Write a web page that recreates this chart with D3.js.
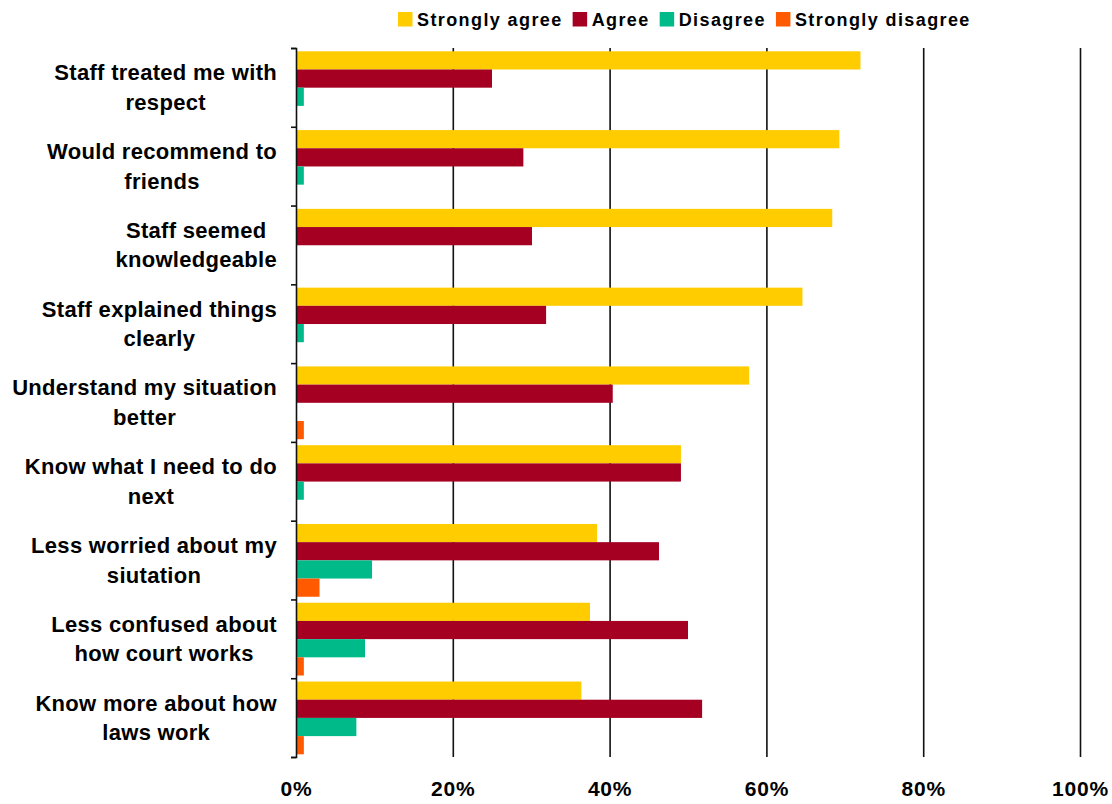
<!DOCTYPE html>
<html>
<head>
<meta charset="utf-8">
<script src="https://cdn.jsdelivr.net/npm/d3@7"></script>
<style>
  html, body { margin: 0; padding: 0; background: #fff; }
  svg { display: block; font-family: "Liberation Sans", Arial, sans-serif; font-weight: bold; }
</style>
</head>
<body>
<svg id="chart" width="1112" height="804"></svg>
<script>
// Survey statements (top to bottom), each split into its two display lines
const categories = [
  ["Staff treated me with", "respect"],
  ["Would recommend to", "friends"],
  ["Staff seemed", "knowledgeable"],
  ["Staff explained things", "clearly"],
  ["Understand my situation", "better"],
  ["Know what I need to do", "next"],
  ["Less worried about my", "siutation"],
  ["Less confused about", "how court works"],
  ["Know more about how", "laws work"]
];

const seriesNames = ["Strongly agree", "Agree", "Disagree", "Strongly disagree"];
const seriesColors = ["#FFCC00", "#A50021", "#00BA8A", "#FF5A00"];

// Percent of respondents per statement
const stronglyAgree    = [72.0, 69.3, 68.4, 64.6, 57.8, 49.1, 38.4, 37.5, 36.4];
const agree            = [25.0, 29.0, 30.1, 31.9, 40.4, 49.1, 46.3, 50.0, 51.8];
const disagree         = [1.0, 1.0, 0, 1.0, 0, 1.0, 9.7, 8.8, 7.7];
const stronglyDisagree = [0, 0, 0, 0, 1.0, 0, 3.0, 1.0, 1.0];

const xTicks = [0, 20, 40, 60, 80, 100];

const seriesValues = [stronglyAgree, agree, disagree, stronglyDisagree];

const svg = d3.select("#chart");

const plot = { left: 296, right: 1080, top: 48, bottom: 757 };

const x = d3.scaleLinear().domain([0, 100]).range([plot.left, plot.right]);

const y = d3.scaleBand()
  .domain(d3.range(categories.length))
  .range([plot.top, plot.bottom])
  .padding(0);

const ySub = d3.scaleBand()
  .domain(d3.range(seriesNames.length))
  .range([3.3, y.bandwidth() - 2.7])
  .padding(0);

// Vertical gridlines
const grid = svg.append("g")
  .attr("transform", `translate(0,${plot.top})`)
  .call(d3.axisBottom(x)
    .tickValues(xTicks.filter(d => d > 0))
    .tickSize(plot.bottom - plot.top)
    .tickFormat(""));
grid.select(".domain").remove();
grid.selectAll("line").attr("stroke", "#111").attr("stroke-width", 1.6);

// Bars
const groups = svg.append("g").selectAll("g")
  .data(categories)
  .join("g")
  .attr("transform", (d, i) => `translate(0,${y(i)})`);

groups.selectAll("rect")
  .data((d, i) => seriesValues.map((vals, s) => ({ s, v: vals[i] })))
  .join("rect")
  .attr("x", x(0))
  .attr("y", d => ySub(d.s))
  .attr("height", ySub.bandwidth())
  .attr("width", d => x(d.v) - x(0))
  .attr("fill", d => seriesColors[d.s]);

// Category axis with boundary ticks
const yEdges = d3.scaleLinear().domain([0, categories.length]).range([plot.top, plot.bottom]);
const yAxis = svg.append("g")
  .attr("transform", `translate(${plot.left},0)`)
  .call(d3.axisLeft(yEdges)
    .tickValues(d3.range(categories.length + 1))
    .tickSize(5)
    .tickFormat(""));
yAxis.selectAll("line, path").attr("stroke", "#111").attr("stroke-width", 1.6);

// Category labels: two centred lines, block right-aligned next to the axis
const labels = svg.append("g")
  .attr("font-size", 22)
  .attr("letter-spacing", 0.3)
  .attr("fill", "#000");

categories.forEach((lines, i) => {
  const cy = y(i) + y.bandwidth() / 2;
  const t = labels.append("text").attr("text-anchor", "middle");
  const spans = lines.map((ln, k) => t.append("tspan")
    .attr("y", cy + (k - 0.5) * 29.5)
    .attr("dy", "0.35em")
    .text(ln));
  const maxW = d3.max(spans, s => s.node().getComputedTextLength());
  const cx = 277 - maxW / 2;
  spans.forEach(s => s.attr("x", cx));
});

// X tick labels
const xAxis = svg.append("g")
  .attr("transform", `translate(0,${plot.bottom})`)
  .call(d3.axisBottom(x)
    .tickValues(xTicks)
    .tickSize(0)
    .tickPadding(24)
    .tickFormat(d => d + "%"));
xAxis.select(".domain").remove();
xAxis.selectAll("text")
  .attr("font-size", 21)
  .attr("letter-spacing", 0.8)
  .attr("font-family", "'Liberation Sans', Arial, sans-serif")
  .attr("font-weight", "bold")
  .attr("fill", "#000");

// Legend
const legend = svg.append("g").attr("font-size", 18).attr("letter-spacing", 1.4);
let lx = 398;
seriesNames.forEach((name, s) => {
  legend.append("rect")
    .attr("x", lx).attr("y", 12)
    .attr("width", 14.5).attr("height", 14.5)
    .attr("fill", seriesColors[s]);
  const t = legend.append("text")
    .attr("x", lx + 19).attr("y", 19.5)
    .attr("dy", "0.35em")
    .attr("fill", "#000")
    .text(name);
  lx += 19 + t.node().getComputedTextLength() + 10;
});
</script>
</body>
</html>
